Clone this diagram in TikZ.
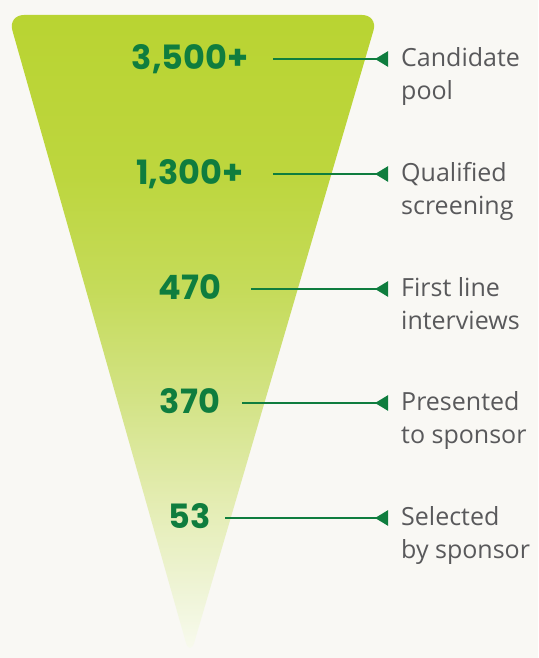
\documentclass[tikz,border=0pt]{standalone}
\usepackage{fontspec}
\usepackage{tikz}
\usetikzlibrary{arrows.meta}
\newfontfamily\numfont{Poppins}
\newfontfamily\labfont{Open Sans}
\definecolor{bgpaper}{HTML}{F9F8F4}
\definecolor{numgreen}{HTML}{0F7D3E}
\definecolor{labgray}{HTML}{59595B}
\definecolor{fadeA}{HTML}{B9D432}
\definecolor{fadeB}{HTML}{BDD63E}
\definecolor{fadeC}{HTML}{C5DB5A}
\definecolor{fadeD}{HTML}{D3E386}
\definecolor{fadeE}{HTML}{E3ECB0}
\definecolor{fadeF}{HTML}{F0F5DA}
\definecolor{fadeG}{HTML}{F8FAEE}
\pgfdeclareverticalshading{funnelfade}{100bp}{color(0bp)=(fadeG); color(25.5bp)=(fadeG);
  color(29.5bp)=(fadeF); color(37.5bp)=(fadeE); color(45bp)=(fadeD);
  color(53.5bp)=(fadeC); color(62.5bp)=(fadeB); color(75bp)=(fadeA); color(100bp)=(fadeA)}
\tikzset{
  count/.style={font=\numfont\bfseries\fontsize{33.5}{36}\selectfont,
    text=numgreen, anchor=base, inner sep=0pt},
  stage/.style={font=\labfont\fontsize{25}{33}\selectfont, text=labgray,
    align=left, anchor=base west, inner sep=0pt},
  pointer/.style={numgreen, line width=2.4pt,
    -{Triangle[reversed,length=13pt,width=15pt]}}
}
\begin{document}
\begin{tikzpicture}[x=1pt,y=1pt]
  % paper
  \fill[bgpaper] (0,0) rectangle (538,658);
  \useasboundingbox (0,0) rectangle (538,658);
  % funnel
  \shade[shading=funnelfade, rounded corners=16pt]
    (8,643) -- (378,643) -- (190,1) -- cycle;
  % rows (base of a two-line node is its last line)
  \foreach \i/\y/\num/\xs/\txt in {
    1/599/{3,500+}/273/{Candidate\\pool},
    2/484/{1,300+}/273/{Qualified\\screening},
    3/369/{470}/251/{First line\\interviews},
    4/255/{370}/242/{Presented\\to sponsor},
    5/140/{53}/225/{Selected\\by sponsor}}
  {
    \node[count] (n\i) at (190,\y-11) {\num};
    \coordinate (s\i) at (\xs,\y);
    \coordinate (a\i) at (388,\y);
    \node[stage] (l\i) at (401,\y-41) {\txt};
    \draw[pointer] (s\i) -- (a\i);
  }
\end{tikzpicture}
\end{document}
